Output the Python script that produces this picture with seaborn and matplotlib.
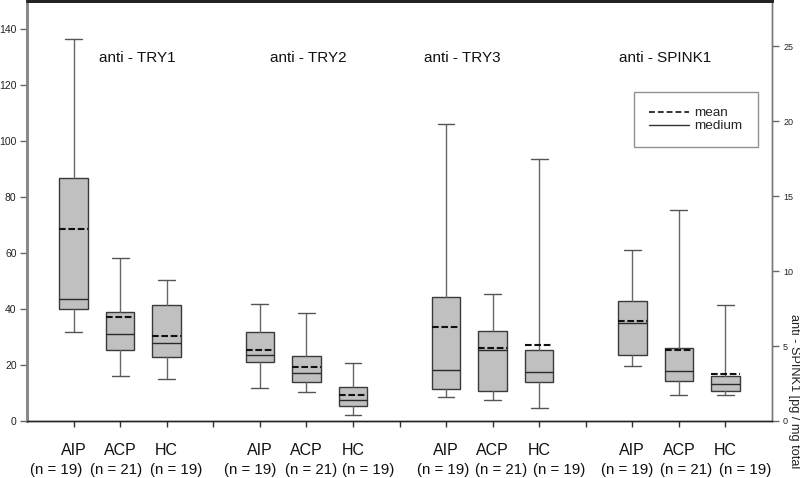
import matplotlib
matplotlib.use("Agg")
import matplotlib.pyplot as plt
from matplotlib.lines import Line2D
import seaborn as sns

# ---- data ----
groups = ["AIP", "ACP", "HC"]
n_labels = ["(n = 19)", "(n = 21)", "(n = 19)"]
antibodies = ["anti - TRY1", "anti - TRY2", "anti - TRY3", "anti - SPINK1"]

# order: TRY1 (AIP, ACP, HC), TRY2 (...), TRY3 (...), SPINK1 (...)
whislo = [31.8, 15.9, 14.9, 11.7, 10.3, 2.1, 8.6, 7.4, 4.5, 3.69, 1.71, 1.76]
q1     = [39.9, 25.2, 23.0, 21.0, 13.9, 5.3, 11.5, 10.6, 14.0, 4.42, 2.67, 2.00]
median = [43.7, 30.9, 27.7, 23.5, 17.0, 7.6, 18.1, 25.5, 17.4, 6.51, 3.36, 2.45]
q3     = [86.7, 39.1, 41.6, 31.9, 23.3, 12.0, 44.3, 32.0, 25.2, 8.00, 4.84, 3.00]
whishi = [136.6, 58.3, 50.5, 41.9, 38.4, 20.6, 106.1, 45.5, 93.6, 11.38, 14.1, 7.71]
means  = [68.7, 37.0, 30.3, 25.5, 19.4, 9.2, 33.4, 25.9, 27.0, 6.69, 4.73, 3.11]

left_ticks = [0, 20, 40, 60, 80, 100, 120, 140]
right_ticks = [0, 5, 10, 15, 20, 25]

# ---- style ----
sns.set_theme(style="ticks")
plt.rcParams["font.family"] = ["Liberation Sans", "DejaVu Sans"]

W, H = 800, 478
fig = plt.figure(figsize=(W / 100, H / 100), dpi=100)
ax = fig.add_axes([27 / W, (H - 421) / H, (772 - 27) / W, 420 / H])
ax2 = ax.twinx()

positions = []
for gi in range(len(antibodies)):
    for j in range(len(groups)):
        positions.append(gi * 4 + j)

stats = []
for i in range(len(positions)):
    stats.append(dict(whislo=whislo[i], q1=q1[i], med=median[i], q3=q3[i],
                      whishi=whishi[i], mean=means[i], fliers=[]))

common = dict(widths=0.61, patch_artist=True, showmeans=True, meanline=True,
              showfliers=False, manage_ticks=False, capwidths=0.36,
              boxprops=dict(facecolor="#c0c0c0", edgecolor="#3a3a3a", linewidth=1.0),
              medianprops=dict(color="#2a2a2a", linewidth=1.0),
              meanprops=dict(color="#111111", linewidth=1.5, linestyle=(0, (3.2, 1.3))),
              whiskerprops=dict(color="#666666", linewidth=1.0),
              capprops=dict(color="#555555", linewidth=1.0))

ax.bxp(stats[:9], positions=positions[:9], **common)
ax2.bxp(stats[9:], positions=positions[9:], **common)

ax.set_xlim(-1, 15)
ax.set_ylim(0, 150)
ax2.set_ylim(0, 28)
ax.set_yticks(left_ticks)
ax2.set_yticks(right_ticks)

# all integer positions carry a tick mark; group names sit under the boxes
xt = list(range(15))
xl = []
for p in xt:
    if p in positions:
        xl.append(groups[positions.index(p) % 3])
    else:
        xl.append("")
ax.set_xticks(xt)
ax.set_xticklabels(xl, fontsize=11.5)
ax.tick_params(axis="x", direction="out", length=4, width=1, color="#333333",
               pad=12, labelcolor="#111111")
ax.tick_params(axis="y", direction="out", length=5, width=1, color="#666666",
               labelsize=7.5, pad=2.5, labelcolor="#222222")
ax2.tick_params(axis="y", direction="out", length=5, width=1, color="#666666",
                labelsize=6.5, pad=3, labelcolor="#222222")

# sample-size lines (spread a little wider than the ticks, as in the reference)
n_px = [56, 116, 176, 250.5, 311, 368, 443, 501, 559, 627.5, 686, 745]
for i, px in enumerate(n_px):
    fig.text(px / W, 1 - 470 / H, n_labels[i % 3], fontsize=10.8, ha="center",
             va="center", color="#111111")

for a in (ax, ax2):
    a.spines["left"].set_color("#888888")
    a.spines["left"].set_linewidth(2)
    a.spines["bottom"].set_color("#222222")
    a.spines["bottom"].set_linewidth(1)
    a.spines["top"].set_color("#222222")
    a.spines["top"].set_linewidth(2)
    a.spines["top"].set_visible(True)
    a.spines["right"].set_color("#777777")
    a.spines["right"].set_linewidth(1)
    a.spines["right"].set_visible(True)
ax.set_facecolor("white")

# antibody titles
title_px = [137.5, 308, 462, 665]
for name, px in zip(antibodies, title_px):
    fig.text(px / W, 1 - 58 / H, name, fontsize=11, ha="center", va="center",
             color="#111111")

# legend
handles = [Line2D([], [], color="#111111", linewidth=1.2, linestyle=(0, (3.5, 1.8))),
           Line2D([], [], color="#333333", linewidth=1.0)]
leg = ax.legend(handles, ["mean", "medium"], loc="upper left",
                bbox_to_anchor=(634 / W, 1 - 92 / H), bbox_transform=fig.transFigure,
                fontsize=9.7, frameon=True, fancybox=False, handlelength=3.0,
                handletextpad=0.4, labelspacing=0.05, borderpad=1.1,
                borderaxespad=0)
leg.get_frame().set_edgecolor("#777777")
leg.get_frame().set_linewidth(1.0)

# right axis label (visible part of the reference's label)
fig.text(794 / W, 1 - 314 / H, "anti - SPINK1 [pg / mg total", rotation=-90,
         fontsize=9.2, ha="center", va="top", color="#222222")

fig.savefig("out.png", dpi=100)
